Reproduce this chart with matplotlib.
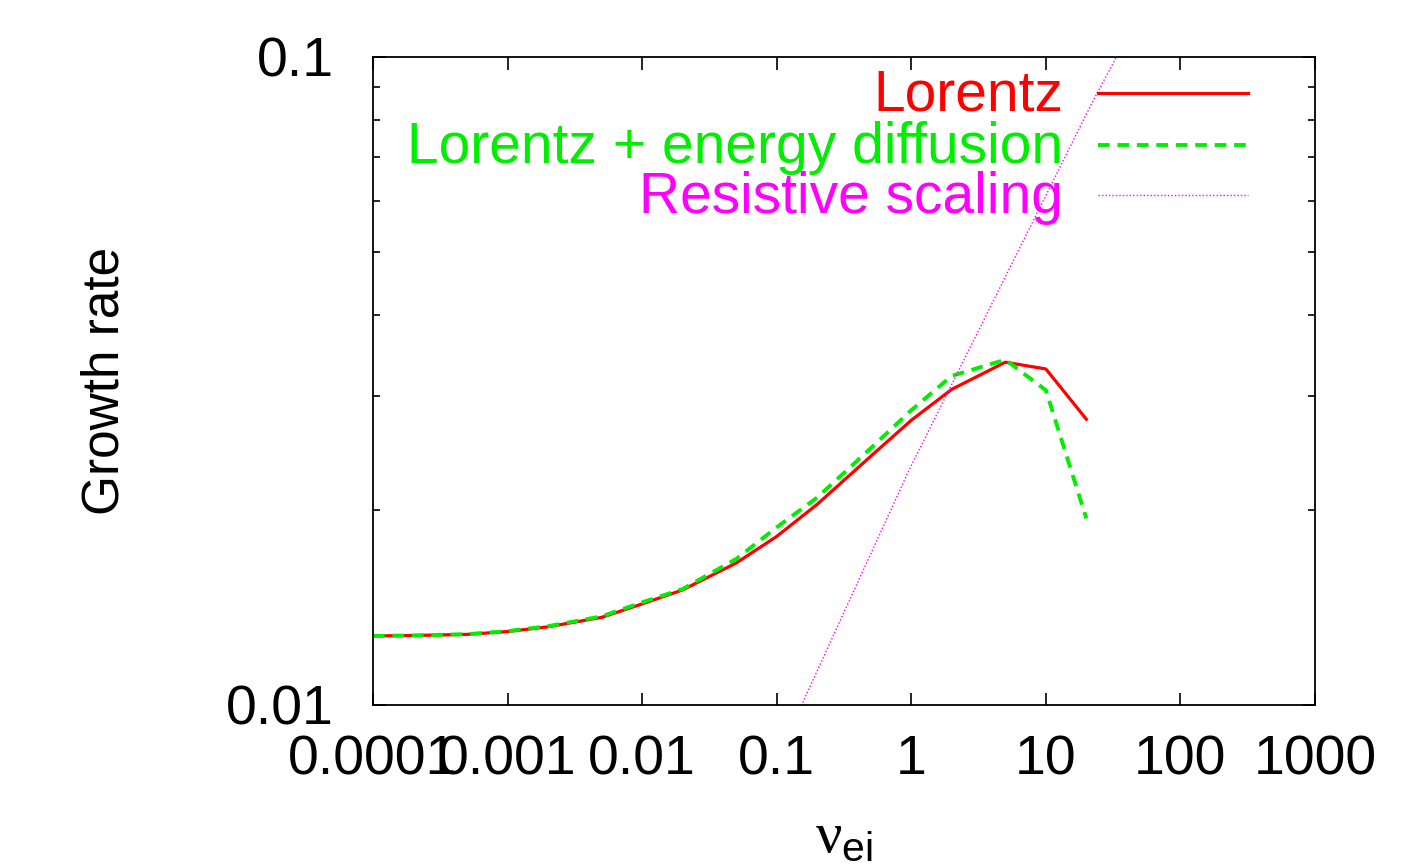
import matplotlib
matplotlib.use("Agg")
import matplotlib.pyplot as plt
from matplotlib.ticker import FixedLocator, NullFormatter

plt.rcParams['font.family'] = ['Liberation Sans', 'DejaVu Sans']
plt.rcParams['mathtext.fontset'] = 'custom'
plt.rcParams['mathtext.rm'] = 'Liberation Serif'
plt.rcParams['mathtext.it'] = 'Liberation Sans'

# collision frequency
nu = [1e-4, 2e-4, 5e-4, 1e-3, 2e-3, 5e-3, 0.01, 0.02, 0.05, 0.1, 0.2, 0.5, 1, 2, 5, 10, 20]
# growth rates
lorentz = [0.01278, 0.0128, 0.01285, 0.01298, 0.0132, 0.01365, 0.01432, 0.01505,
           0.01656, 0.0182, 0.0204, 0.0242, 0.0275, 0.0307, 0.0338, 0.0330, 0.0276]
lorentz_ed = [0.01278, 0.0128, 0.01286, 0.013, 0.01323, 0.0137, 0.0144, 0.0151,
              0.0168, 0.0188, 0.0209, 0.0249, 0.0285, 0.0322, 0.0341, 0.0306, 0.0194]
# resistive scaling curve
nu_res = [0.1, 0.153, 0.976, 22.5, 33.5, 50]
gamma_res = [0.00824, 0.01, 0.02318, 0.0857, 0.1, 0.1167]

xticks = [1e-4, 1e-3, 1e-2, 1e-1, 1, 10, 100, 1000]
xlabels = ['0.0001', '0.001', '0.01', '0.1', '1', '10', '100', '1000']
yticks = [0.01, 0.1]
ylabels = ['0.01', '0.1']

labels = ['Lorentz', 'Lorentz + energy diffusion', 'Resistive scaling']
colors = ['#ff0000', '#00ee00', '#ff00ff']

fig = plt.figure(figsize=(14.27, 8.67), dpi=100)
ax = fig.add_axes([0.2614, 0.1869, 0.6601, 0.7474])

ax.plot(nu, lorentz, color=colors[0], lw=2.3)
ax.plot(nu, lorentz_ed, color=colors[1], lw=2.8, dashes=(3, 2))
ax.plot(nu_res, gamma_res, color=colors[2], lw=1.0, dashes=(1, 1.5))

ax.set_xscale('log')
ax.set_yscale('log')
ax.set_xlim(1e-4, 1000)
ax.set_ylim(0.01, 0.1)

ax.xaxis.set_major_locator(FixedLocator(xticks))
ax.set_xticklabels(xlabels)
ax.yaxis.set_major_locator(FixedLocator(yticks))
ax.set_yticklabels(ylabels)
ax.xaxis.set_minor_formatter(NullFormatter())
ax.yaxis.set_minor_formatter(NullFormatter())

ax.tick_params(which='both', direction='in', top=True, right=True, width=1.2)
ax.tick_params(which='major', length=9, labelsize=40)
ax.tick_params(which='minor', length=5)
ax.tick_params(axis='x', which='major', pad=21)
ax.tick_params(axis='y', which='major', pad=28)
for s in ax.spines.values():
    s.set_linewidth(1.3)

ax.set_xlabel(r'$\mathrm{\nu}_{\mathit{ei}}$', fontsize=42, labelpad=17)
ax.set_ylabel('Growth rate', fontsize=37)
ax.yaxis.set_label_coords(-0.258, 0.5)

# legend, text right of sample lines like gnuplot
rows = [0.9167, 0.8364, 0.7593]
styles = [dict(lw=2.3), dict(lw=2.8, dashes=(3, 2)), dict(lw=1.0, dashes=(1, 1.5))]
for lab, c, yb, st in zip(labels, colors, rows, styles):
    ax.text(0.7325, yb, lab, color=c, fontsize=41, ha='right', va='baseline',
            transform=ax.transAxes)
    ax.plot([0.7696, 0.9289], [yb + 0.028, yb + 0.028], color=c,
            transform=ax.transAxes, **st)

fig.savefig('out.png', dpi=100)
